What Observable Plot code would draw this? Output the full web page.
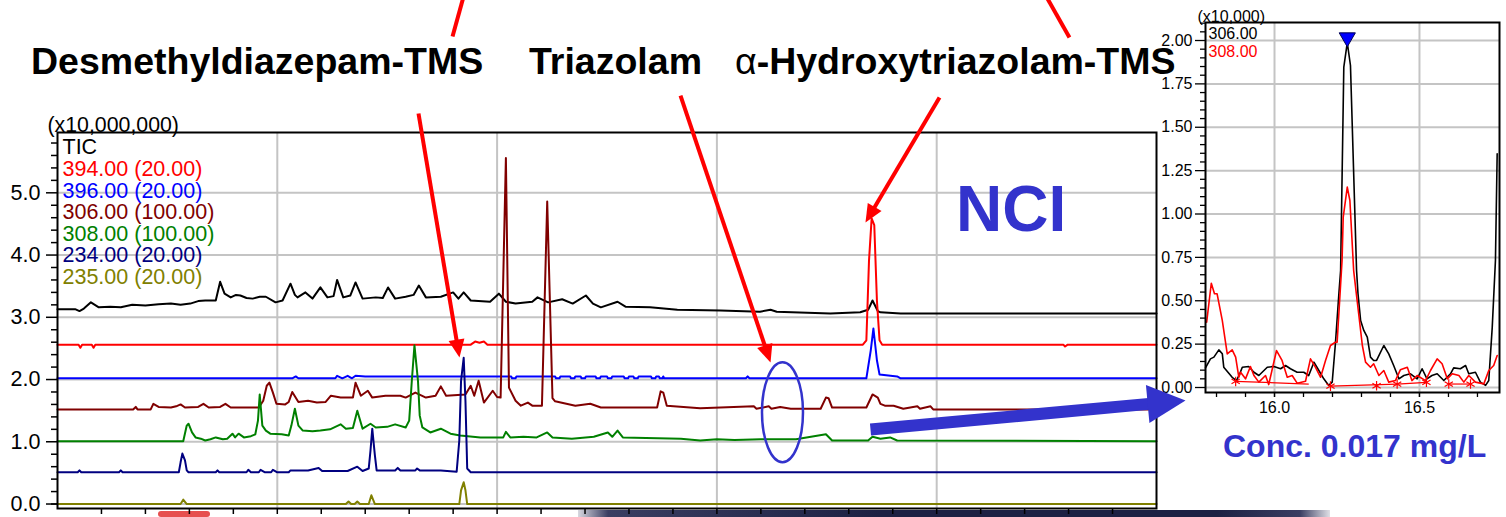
<!DOCTYPE html>
<html>
<head>
<meta charset="utf-8">
<script src="https://cdn.jsdelivr.net/npm/d3@7"></script>
<script src="https://cdn.jsdelivr.net/npm/@observablehq/plot@0.6"></script>
<style>
  html, body { margin: 0; padding: 0; background: #ffffff; }
  #page { position: relative; width: 1506px; height: 517px; overflow: hidden; background: #ffffff; }
  .abs { position: absolute; left: 0; top: 0; }
  .t { position: absolute; white-space: nowrap; line-height: 1; font-family: 'Liberation Sans', Arial, Helvetica, sans-serif; font-weight: bold; }
  svg { overflow: visible; }
</style>
</head>
<body>
<div id="page">
  <div id="strip" style="position:absolute; left:578px; top:510px; width:752px; height:7px; background:linear-gradient(90deg,#d8d8e0 0%,#3a3e62 4%,#1d2143 40%,#1d2143 85%,#3a3e62 96%,#e0e0e6 100%);"></div>
  <div id="redblob" style="position:absolute; left:158px; top:511px; width:52px; height:6px; border-radius:3px; background:#e23030; opacity:0.85;"></div>
  <div id="inset" class="abs" style="left:1150px;"></div>
  <div id="main" class="abs"></div>
  <div class="t" style="left:31px; top:43.3px; font-size:37.5px; color:#000;">Desmethyldiazepam-TMS</div>
  <div class="t" style="left:529px; top:43.3px; font-size:37.5px; color:#000;">Triazolam</div>
  <div class="t" style="left:735px; top:43.3px; font-size:37.5px; color:#000;"><span style="font-weight:normal">α</span>-Hydroxytriazolam-TMS</div>
  <div class="t" style="left:956px; top:177px; font-size:64px; color:#3333cc;">NCI</div>
  <div class="t" style="left:1223px; top:430px; font-size:32px; color:#3333cc;">Conc. 0.017 mg/L</div>
</div>
<script>
// ---------------- MAIN CHROMATOGRAM DATA (time in min, offset intensity x10,000,000) ----------------
const tic = [[7.00,3.13],[7.20,3.13],[7.25,3.10],[7.30,3.14],[7.38,3.24],[7.47,3.16],[7.60,3.17],[7.72,3.16],[7.85,3.20],[8.00,3.19],[8.15,3.21],[8.29,3.22],[8.40,3.20],[8.51,3.22],[8.60,3.26],[8.68,3.27],[8.80,3.27],[8.85,3.57],[8.90,3.38],[8.97,3.32],[9.03,3.36],[9.08,3.35],[9.15,3.31],[9.22,3.30],[9.30,3.33],[9.37,3.33],[9.48,3.24],[9.56,3.27],[9.65,3.54],[9.70,3.36],[9.73,3.32],[9.82,3.40],[9.90,3.30],[9.99,3.48],[10.07,3.32],[10.14,3.34],[10.18,3.60],[10.25,3.32],[10.33,3.35],[10.39,3.56],[10.47,3.30],[10.62,3.32],[10.70,3.31],[10.76,3.48],[10.84,3.30],[10.96,3.33],[11.05,3.36],[11.11,3.51],[11.19,3.32],[11.36,3.33],[11.50,3.40],[11.56,3.30],[11.62,3.40],[11.70,3.27],[11.92,3.25],[12.02,3.38],[12.10,3.25],[12.21,3.22],[12.40,3.25],[12.46,3.32],[12.58,3.24],[12.74,3.29],[12.86,3.22],[13.01,3.35],[13.09,3.22],[13.18,3.16],[13.37,3.25],[13.46,3.17],[13.74,3.16],[14.05,3.12],[14.54,3.11],[14.99,3.09],[15.11,3.12],[15.18,3.09],[15.79,3.06],[16.13,3.08],[16.22,3.12],[16.27,3.27],[16.33,3.10],[16.36,3.08],[16.59,3.06],[19.50,3.06]];
const s394 = [[7.00,2.56],[7.24,2.56],[7.26,2.51],[7.28,2.56],[7.39,2.56],[7.41,2.51],[7.43,2.56],[11.70,2.56],[11.75,2.61],[11.80,2.59],[11.85,2.61],[11.89,2.56],[16.16,2.56],[16.20,2.63],[16.23,3.91],[16.26,4.59],[16.29,4.48],[16.32,3.27],[16.35,2.63],[16.38,2.56],[18.44,2.56],[18.46,2.53],[18.49,2.56],[19.50,2.56]];
const s396 = [[7.00,2.02],[9.67,2.02],[9.71,2.05],[9.74,2.02],[10.16,2.02],[10.18,2.06],[10.24,2.02],[10.30,2.06],[10.35,2.02],[10.39,2.06],[10.50,2.05],[12.16,2.05],[12.17,2.02],[12.21,2.02],[12.22,2.05],[12.66,2.05],[12.67,2.02],[12.71,2.02],[12.72,2.05],[12.83,2.05],[12.84,2.02],[12.88,2.02],[12.89,2.05],[12.95,2.05],[12.96,2.02],[13.00,2.02],[13.01,2.05],[13.12,2.05],[13.13,2.02],[13.17,2.02],[13.18,2.05],[13.25,2.05],[13.26,2.02],[13.30,2.02],[13.31,2.05],[13.44,2.05],[13.45,2.02],[13.49,2.02],[13.50,2.05],[13.55,2.05],[13.56,2.02],[13.60,2.02],[13.61,2.05],[13.75,2.05],[13.76,2.02],[13.80,2.02],[13.81,2.05],[13.84,2.05],[13.85,2.02],[13.88,2.02],[13.89,2.05],[13.90,2.02],[14.83,2.02],[14.85,2.05],[14.87,2.02],[16.20,2.02],[16.25,2.47],[16.28,2.82],[16.32,2.31],[16.35,2.08],[16.55,2.05],[16.59,2.02],[19.50,2.02]];
const s306 = [[7.00,1.52],[7.86,1.52],[7.89,1.56],[7.91,1.52],[8.06,1.52],[8.09,1.61],[8.15,1.56],[8.29,1.55],[8.35,1.57],[8.40,1.60],[8.45,1.55],[8.60,1.56],[8.66,1.61],[8.72,1.55],[8.85,1.56],[8.91,1.61],[8.97,1.55],[9.29,1.55],[9.34,1.66],[9.38,1.90],[9.41,1.95],[9.45,1.79],[9.49,1.61],[9.59,1.60],[9.63,1.64],[9.67,1.80],[9.74,1.64],[9.85,1.66],[9.95,1.63],[10.05,1.64],[10.11,1.74],[10.22,1.71],[10.36,1.71],[10.39,1.95],[10.45,1.74],[10.53,1.82],[10.58,1.71],[10.73,1.74],[10.90,1.74],[10.96,1.71],[11.07,1.79],[11.19,1.71],[11.30,1.74],[11.36,1.89],[11.42,1.74],[11.64,1.76],[11.70,1.90],[11.74,1.74],[11.79,1.98],[11.85,1.63],[11.95,1.82],[12.00,1.72],[12.04,1.71],[12.10,5.56],[12.135,1.87],[12.21,1.66],[12.27,1.58],[12.35,1.63],[12.40,1.58],[12.51,1.58],[12.57,4.86],[12.63,1.70],[12.66,1.65],[12.89,1.58],[13.06,1.61],[13.18,1.55],[13.82,1.55],[13.86,1.81],[13.89,1.79],[13.93,1.58],[14.31,1.54],[14.92,1.57],[14.95,1.53],[15.09,1.57],[15.12,1.53],[15.22,1.56],[15.34,1.53],[15.68,1.53],[15.74,1.71],[15.77,1.70],[15.81,1.55],[16.20,1.55],[16.27,1.76],[16.33,1.71],[16.36,1.61],[16.41,1.58],[16.51,1.58],[16.62,1.53],[16.78,1.57],[16.81,1.53],[16.93,1.57],[16.96,1.52],[19.50,1.52]];
const s308 = [[7.00,1.01],[8.43,1.01],[8.47,1.26],[8.49,1.29],[8.53,1.15],[8.57,1.07],[8.63,1.05],[8.68,1.02],[8.74,1.04],[8.80,1.07],[8.88,1.04],[8.93,1.05],[8.99,1.13],[9.02,1.07],[9.06,1.13],[9.12,1.07],[9.20,1.09],[9.25,1.12],[9.28,1.34],[9.30,1.76],[9.33,1.26],[9.37,1.18],[9.42,1.13],[9.55,1.12],[9.63,1.10],[9.66,1.26],[9.70,1.53],[9.74,1.26],[9.79,1.18],[9.90,1.17],[9.99,1.18],[10.10,1.20],[10.22,1.28],[10.28,1.21],[10.36,1.22],[10.41,1.50],[10.47,1.21],[10.56,1.29],[10.62,1.23],[10.75,1.24],[10.84,1.28],[10.96,1.23],[11.00,1.34],[11.03,1.98],[11.06,2.55],[11.10,1.98],[11.12,1.42],[11.15,1.23],[11.24,1.15],[11.36,1.21],[11.47,1.13],[11.58,1.10],[11.81,1.07],[12.07,1.07],[12.10,1.16],[12.15,1.07],[12.30,1.08],[12.45,1.07],[12.57,1.15],[12.63,1.07],[12.85,1.05],[13.10,1.08],[13.26,1.15],[13.31,1.08],[13.37,1.18],[13.43,1.07],[14.09,1.05],[14.31,1.02],[14.50,1.04],[14.70,1.03],[15.00,1.04],[15.40,1.04],[15.74,1.12],[15.81,1.02],[16.22,1.02],[16.27,1.08],[16.36,1.05],[16.47,1.07],[16.55,1.02],[19.50,1.01]];
const s234 = [[7.00,0.51],[7.23,0.51],[7.25,0.54],[7.27,0.51],[7.70,0.51],[7.72,0.54],[7.74,0.51],[8.38,0.51],[8.40,0.67],[8.42,0.81],[8.45,0.70],[8.47,0.54],[8.49,0.51],[8.80,0.51],[8.82,0.54],[8.84,0.51],[9.15,0.51],[9.17,0.55],[9.20,0.51],[9.29,0.51],[9.31,0.55],[9.36,0.51],[9.43,0.51],[9.45,0.55],[9.50,0.51],[9.63,0.51],[9.65,0.54],[9.85,0.54],[9.97,0.58],[10.01,0.53],[10.30,0.53],[10.41,0.60],[10.47,0.53],[10.54,0.57],[10.56,0.86],[10.58,1.21],[10.61,0.78],[10.63,0.54],[10.84,0.54],[10.87,0.58],[10.90,0.54],[11.07,0.54],[11.09,0.57],[11.12,0.54],[11.36,0.54],[11.54,0.52],[11.57,1.02],[11.59,1.98],[11.62,2.35],[11.64,1.66],[11.66,0.57],[11.70,0.51],[19.50,0.51]];
const s235 = [[7.00,0.00],[8.40,0.00],[8.43,0.07],[8.47,0.00],[10.28,0.00],[10.31,0.04],[10.34,0.00],[10.38,0.00],[10.41,0.04],[10.44,0.00],[10.54,0.00],[10.57,0.14],[10.61,0.00],[11.57,0.00],[11.59,0.22],[11.62,0.35],[11.64,0.22],[11.66,0.00],[19.50,0.00]];

const mainLegend = [
  {label: "TIC", color: "#000000"},
  {label: "394.00 (20.00)", color: "#ff0000"},
  {label: "396.00 (20.00)", color: "#0000ff"},
  {label: "306.00 (100.00)", color: "#800000"},
  {label: "308.00 (100.00)", color: "#008000"},
  {label: "234.00 (20.00)", color: "#000080"},
  {label: "235.00 (20.00)", color: "#808000"}
];
const mainSeries = [tic, s394, s396, s306, s308, s234, s235];
const mainYTicks = [0, 1, 2, 3, 4, 5];
const mainYMinor = [0,0.2,0.4,0.6,0.8,1.2,1.4,1.6,1.8,2.2,2.4,2.6,2.8,3.2,3.4,3.6,3.8,4.2,4.4,4.6,4.8,5.2,5.4,5.6,5.8];
const mainXTicks = [7.5,8,8.5,9,9.5,10,10.5,11,11.5,12,12.5,13,13.5,14,14.5,15,15.5,16,16.5,17,17.5,18,18.5,19];
const mainGridX = [9.5, 12, 14.5, 17];
const mainScaleLabel = "(x10,000,000)";

// annotations, in the main chart's data coordinates
const redLines = [
  {x1: 11.622, y1: 8.17, x2: 11.493, y2: 7.511},
  {x1: 18.240, y1: 8.17, x2: 18.510, y2: 7.495}
];
const redArrows = [
  {x1: 11.106, y1: 6.274, x2: 11.572, y2: 2.354},
  {x1: 14.086, y1: 6.563, x2: 15.110, y2: 2.273},
  {x1: 17.032, y1: 6.531, x2: 16.190, y2: 4.523}
];
const blueArrow = [{x1: 16.247, y1: 1.197, x2: 19.830, y2: 1.663}];
const blueEllipse = [{x: 15.246, y: 1.475}];

// ---------------- INSET DATA (time in min, intensity x10,000) ----------------
const i306 = [[15.762,0.113],[15.779,0.165],[15.791,0.175],[15.808,0.217],[15.820,0.194],[15.825,0.117],[15.854,0.059],[15.869,0.040],[15.880,0.079],[15.889,0.117],[15.911,0.121],[15.929,0.088],[15.946,0.069],[15.975,0.117],[15.998,0.121],[16.021,0.108],[16.038,0.127],[16.055,0.108],[16.078,0.088],[16.101,0.088],[16.118,0.069],[16.136,0.146],[16.153,0.098],[16.170,0.050],[16.187,0.012],[16.199,0.031],[16.210,0.252],[16.222,0.540],[16.228,0.674],[16.239,1.846],[16.251,1.988],[16.262,1.856],[16.283,0.674],[16.288,0.540],[16.297,0.386],[16.308,0.329],[16.320,0.290],[16.331,0.175],[16.342,0.156],[16.352,0.156],[16.377,0.242],[16.394,0.194],[16.411,0.127],[16.429,0.050],[16.446,0.069],[16.469,0.079],[16.492,0.050],[16.509,0.108],[16.526,0.050],[16.543,0.069],[16.561,0.079],[16.584,0.040],[16.607,0.079],[16.618,0.113],[16.641,0.108],[16.659,0.127],[16.670,0.079],[16.693,0.088],[16.710,0.031],[16.728,0.012],[16.739,0.040],[16.751,0.348],[16.762,0.732],[16.768,1.347]];
const i308 = [[15.766,0.376],[15.782,0.601],[15.793,0.540],[15.802,0.540],[15.820,0.386],[15.837,0.194],[15.854,0.217],[15.866,0.175],[15.877,0.059],[15.883,0.088],[15.900,0.050],[15.917,0.121],[15.929,0.069],[15.946,0.031],[15.969,0.069],[15.980,0.017],[16.007,0.213],[16.026,0.156],[16.044,0.059],[16.061,0.069],[16.078,0.025],[16.107,0.036],[16.124,0.165],[16.141,0.117],[16.159,0.059],[16.176,0.156],[16.193,0.242],[16.210,0.261],[16.216,0.261],[16.233,0.732],[16.237,0.982],[16.251,1.155],[16.260,1.078],[16.273,0.674],[16.283,0.530],[16.291,0.415],[16.303,0.242],[16.314,0.146],[16.331,0.117],[16.342,0.137],[16.360,0.069],[16.377,0.098],[16.394,0.031],[16.417,0.040],[16.434,0.102],[16.458,0.117],[16.474,0.040],[16.492,0.069],[16.521,0.040],[16.538,0.098],[16.561,0.165],[16.578,0.137],[16.596,0.050],[16.613,0.079],[16.636,0.069],[16.653,0.031],[16.670,0.069],[16.693,0.031],[16.722,0.021],[16.739,0.098],[16.756,0.127],[16.768,0.184]];
const insetBaselines = [
  {x1: 15.866, y1: 0.035, x2: 16.118, y2: 0.020},
  {x1: 16.193, y1: 0.008, x2: 16.423, y2: 0.020},
  {x1: 16.423, y1: 0.020, x2: 16.524, y2: 0.030},
  {x1: 16.601, y1: 0.020, x2: 16.676, y2: 0.020}
];
const insetMarks = [[15.866,0.035],[16.193,0.008],[16.352,0.010],[16.423,0.020],[16.524,0.030],[16.601,0.020],[16.676,0.020]];
const insetPeak = [[16.251, 2.0]];
const insetLegend = [{label: "306.00", color: "#000000"}, {label: "308.00", color: "#ff0000"}];
const insetYTicks = [0, 0.25, 0.5, 0.75, 1.0, 1.25, 1.5, 1.75, 2.0];
const insetYMinor = [0.05,0.1,0.15,0.2,0.3,0.35,0.4,0.45,0.55,0.6,0.65,0.7,0.8,0.85,0.9,0.95,1.05,1.1,1.15,1.2,1.3,1.35,1.4,1.45,1.55,1.6,1.65,1.7,1.8,1.85,1.9,1.95,2.05,2.1];
const insetXTicks = [15.8,15.9,16.0,16.1,16.2,16.3,16.4,16.5,16.6,16.7];
const insetXLabels = [16.0, 16.5];
const insetGridX = [16.0, 16.5];
const insetScaleLabel = "(x10,000)";

// ---------------- RENDER ----------------
const FONT = "'Liberation Sans', Arial, Helvetica, sans-serif";
const pts = arr => arr.map(([t, v]) => ({t, v}));
const GRID = "#c4c4c4";

const MW = 1506, MH = 517, mML = 57, mMR = 350, mMT = 132, mMB = 9;
const mX = [7, 19.5], mY = [-0.072, 5.969];
const kx = (MW - mML - mMR) / (mX[1] - mX[0]);
const ky = (MH - mMT - mMB) / (mY[1] - mY[0]);
const angle = d => Math.atan2((d.x2 - d.x1) * kx, (d.y2 - d.y1) * ky) * 180 / Math.PI;

const ellipseSymbol = {
  draw(ctx, size) {
    const r = Math.sqrt(size / Math.PI);
    const ry = r, rx = r * 0.41, k = 0.5523;
    ctx.moveTo(rx, 0);
    ctx.bezierCurveTo(rx, ry * k, rx * k, ry, 0, ry);
    ctx.bezierCurveTo(-rx * k, ry, -rx, ry * k, -rx, 0);
    ctx.bezierCurveTo(-rx, -ry * k, -rx * k, -ry, 0, -ry);
    ctx.bezierCurveTo(rx * k, -ry, rx, -ry * k, rx, 0);
    ctx.closePath();
  }
};

const mainPlot = Plot.plot({
  width: MW, height: MH,
  marginLeft: mML, marginRight: mMR, marginTop: mMT, marginBottom: mMB,
  x: {domain: mX},
  y: {domain: mY},
  style: {fontFamily: FONT, background: "transparent", overflow: "visible"},
  marks: [
    Plot.ruleY(mainYTicks, {stroke: GRID, strokeWidth: 2}),
    Plot.ruleX(mainGridX, {stroke: GRID, strokeWidth: 2}),
    ...mainSeries.map((s, i) => Plot.line(pts(s), {x: "t", y: "v", stroke: mainLegend[i].color, strokeWidth: 2, strokeLinejoin: "round"})),
    Plot.frame({stroke: "#000", strokeWidth: 2}),
    Plot.axisY(mainYMinor, {tickSize: 6, tickFormat: () => "", label: null, strokeWidth: 1.5}),
    Plot.axisY(mainYTicks, {tickSize: 11, tickPadding: 6, tickFormat: d => d.toFixed(1), fontSize: 21.5, label: null, strokeWidth: 1.5, fill: "#000"}),
    Plot.axisX(mainXTicks, {tickSize: 6, tickFormat: () => "", label: null, strokeWidth: 1.5}),
    ...mainLegend.map((d, i) => Plot.text([d.label], {text: t => t, frameAnchor: "top-left", dx: 5, dy: 15 + i * 21.6, lineAnchor: "middle", textAnchor: "start", fill: d.color, fontSize: 21.5})),
    Plot.text([mainScaleLabel], {text: t => t, frameAnchor: "top-left", dx: -10, dy: -7, lineAnchor: "middle", textAnchor: "start", fill: "#000", fontSize: 21.3}),
    // annotations
    Plot.dot(blueEllipse, {x: "x", y: "y", r: 50, symbol: ellipseSymbol, stroke: "#3333cc", strokeWidth: 2.5, fill: "none"}),
    Plot.link(redLines, {x1: "x1", y1: "y1", x2: "x2", y2: "y2", stroke: "#ff0000", strokeWidth: 4, strokeLinecap: "butt"}),
    Plot.arrow(redArrows, {x1: "x1", y1: "y1", x2: "x2", y2: "y2", stroke: "#ff0000", strokeWidth: 4, headLength: 0, insetEnd: 12, strokeLinecap: "butt"}),
    Plot.vector(redArrows, {x: "x2", y: "y2", rotate: angle, length: 18, r: 8, shape: "spike", anchor: "end", fill: "#ff0000", stroke: "none"}),
    Plot.arrow(blueArrow, {x1: "x1", y1: "y1", x2: "x2", y2: "y2", stroke: "#3333cc", strokeWidth: 12, headLength: 0, insetEnd: 34, strokeLinecap: "butt"}),
    Plot.vector(blueArrow, {x: "x2", y: "y2", rotate: angle, length: 38, r: 19, shape: "spike", anchor: "end", fill: "#3333cc", stroke: "none"})
  ]
});
document.getElementById("main").appendChild(mainPlot);

const insetPlot = Plot.plot({
  width: 356, height: 420,
  marginLeft: 55, marginRight: 7, marginTop: 22, marginBottom: 28,
  x: {domain: [15.762, 16.776]},
  y: {domain: [-0.0288, 2.1038]},
  style: {fontFamily: FONT, background: "transparent", overflow: "visible"},
  marks: [
    Plot.ruleY(insetYTicks, {stroke: GRID, strokeWidth: 2}),
    Plot.ruleX(insetGridX, {stroke: GRID, strokeWidth: 2}),
    Plot.line(pts(i306), {x: "t", y: "v", stroke: "#000000", strokeWidth: 1.6, strokeLinejoin: "round"}),
    Plot.line(pts(i308), {x: "t", y: "v", stroke: "#ff0000", strokeWidth: 1.6, strokeLinejoin: "round"}),
    Plot.link(insetBaselines, {x1: "x1", y1: "y1", x2: "x2", y2: "y2", stroke: "#ff0000", strokeWidth: 1.2}),
    Plot.dot(pts(insetMarks), {x: "t", y: "v", symbol: "asterisk", r: 4.5, stroke: "#ff0000", strokeWidth: 1.2}),
    Plot.frame({stroke: "#000", strokeWidth: 2}),
    Plot.axisY(insetYMinor, {tickSize: 5, tickFormat: () => "", label: null, strokeWidth: 1.3}),
    Plot.axisY(insetYTicks, {tickSize: 10, tickPadding: 3, tickFormat: d => d.toFixed(2), fontSize: 16, label: null, strokeWidth: 1.3, fill: "#000"}),
    Plot.axisX(insetXTicks, {tickSize: 5, tickFormat: () => "", label: null, strokeWidth: 1.3}),
    Plot.axisX(insetXLabels, {tickSize: 5, tickPadding: 4, tickFormat: d => d.toFixed(1), fontSize: 16, label: null, strokeWidth: 1.3, fill: "#000"}),
    ...insetLegend.map((d, i) => Plot.text([d.label], {text: t => t, frameAnchor: "top-left", dx: 3, dy: 11 + i * 18, lineAnchor: "middle", textAnchor: "start", fill: d.color, fontSize: 16})),
    Plot.text([insetScaleLabel], {text: t => t, frameAnchor: "top-left", dx: -8, dy: -6, lineAnchor: "middle", textAnchor: "start", fill: "#000", fontSize: 16}),
    Plot.dot(pts(insetPeak), {x: "t", y: "v", symbol: "triangle", rotate: 180, r: 6, dy: -3, fill: "#0000ff", stroke: "#000050", strokeWidth: 1})
  ]
});
document.getElementById("inset").appendChild(insetPlot);
</script>
</body>
</html>
